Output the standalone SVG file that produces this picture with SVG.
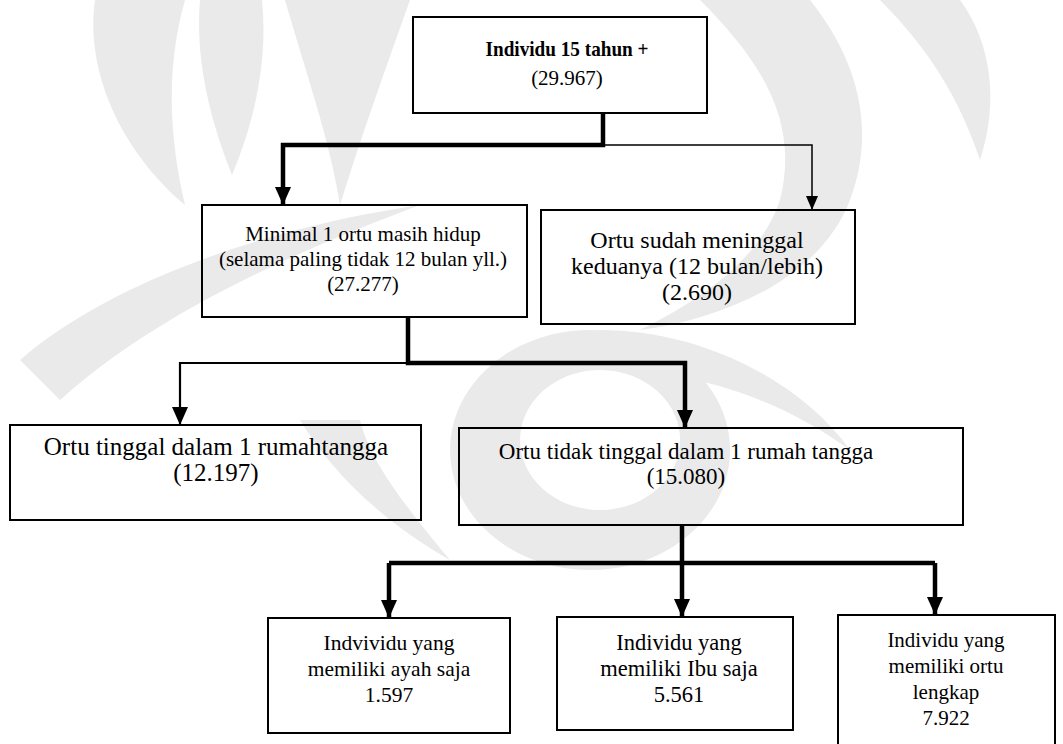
<svg xmlns="http://www.w3.org/2000/svg" width="1063" height="744" viewBox="0 0 1063 744">
<style>
.box{fill:none;stroke:#000;stroke-width:2}
.t{font-family:"Liberation Serif","Times New Roman",serif;fill:#000;text-anchor:middle}
.b{font-weight:bold;font-size:22px}
.s21{font-size:21px}
.s215{font-size:21.5px}
.s225{font-size:22.5px}
.s23{font-size:23px}
.s24{font-size:24px}
.s25{font-size:25px}
.thick{fill:none;stroke:#000;stroke-width:4.5}
.thin{fill:none;stroke:#000;stroke-width:2.2}
.hair{fill:none;stroke:#000;stroke-width:1.5}
.wm{fill:#eaeaea}
</style>
<defs>
<marker id="ahB" markerUnits="userSpaceOnUse" markerWidth="18" markerHeight="16" refX="18" refY="8" orient="auto" viewBox="0 0 18 16"><path d="M0,0 L18,8 L0,16 Z" fill="#000"/></marker>
<marker id="ahS" markerUnits="userSpaceOnUse" markerWidth="14" markerHeight="12" refX="14" refY="6" orient="auto" viewBox="0 0 14 12"><path d="M0,0 L14,6 L0,12 Z" fill="#000"/></marker>
</defs>
<rect width="1063" height="744" fill="#fff"/>
<g id="watermark">
<path class="wm" d="M95,0 C85,70 120,150 185,205 C170,140 165,70 185,0 Z"/>
<path class="wm" d="M200,0 C195,60 210,120 232,175 C255,120 268,60 262,0 Z"/>
<path class="wm" d="M285,0 C305,70 330,140 340,205 C360,140 385,70 410,0 Z"/>
<path class="wm" d="M700,0 C760,60 800,120 780,200 C760,260 700,300 640,330 C720,320 820,280 850,200 C880,120 850,50 810,0 Z"/>
<path class="wm" d="M880,0 C930,50 960,100 980,160 C1000,100 990,40 960,0 Z"/>
<path class="wm" d="M20,360 C100,290 250,230 420,205 C300,250 160,310 60,400 Z"/>
<path class="wm" d="M600,330 C700,330 800,380 850,450 C780,400 700,370 600,370 Z"/>
<path class="wm" fill-rule="evenodd" d="M590,330 a140,120 0 1,0 0.1,0 Z M600,370 a80,70 0 1,0 0.1,0 Z"/>
<path class="wm" d="M300,420 C330,470 380,520 450,560 C400,500 370,460 360,420 Z"/>
</g>
<g id="connectors">
<path class="thick" d="M603,113 V145 H283 V205" marker-end="url(#ahB)"/>
<path class="hair" d="M603,145 H812 V210" marker-end="url(#ahS)"/>
<path class="thick" d="M408,317 V363 H685 V428" marker-end="url(#ahB)"/>
<path class="thin" d="M408,363 H180 V425" marker-end="url(#ahB)"/>
<path class="thick" d="M682,525 V563"/>
<path class="thick" d="M389,563 H935"/>
<path class="thick" d="M389,563 V618" marker-end="url(#ahB)"/>
<path class="thick" d="M682,563 V617" marker-end="url(#ahB)"/>
<path class="thick" d="M935,563 V615" marker-end="url(#ahB)"/>
</g>
<g id="n-top">
<rect class="box" x="413" y="17" width="294" height="96"/>
<text class="t b" x="567" y="56" textLength="163" lengthAdjust="spacingAndGlyphs">Individu 15 tahun +</text>
<text class="t s21" x="567" y="85">(29.967)</text>
</g>
<g id="n-minimal">
<rect class="box" x="202" y="205" width="325" height="112"/>
<text class="t s21" x="363" y="241">Minimal 1 ortu masih hidup</text>
<text class="t s21" x="363" y="266">(selama paling tidak 12 bulan yll.)</text>
<text class="t s21" x="363" y="291">(27.277)</text>
</g>
<g id="n-sudah">
<rect class="box" x="541" y="210" width="314" height="114"/>
<text class="t s24" x="697" y="248">Ortu sudah meninggal</text>
<text class="t s24" x="697" y="274">keduanya (12 bulan/lebih)</text>
<text class="t s24" x="697" y="300">(2.690)</text>
</g>
<g id="n-tinggal">
<rect class="box" x="10" y="425" width="411" height="95"/>
<text class="t s25" x="216" y="455">Ortu tinggal dalam 1 rumahtangga</text>
<text class="t s25" x="216" y="481">(12.197)</text>
</g>
<g id="n-tidak">
<rect class="box" x="459" y="428" width="504" height="97"/>
<text class="t s23" x="686" y="459">Ortu tidak tinggal dalam 1 rumah tangga</text>
<text class="t s23" x="686" y="484">(15.080)</text>
</g>
<g id="n-ayah">
<rect class="box" x="268" y="618" width="242" height="115"/>
<text class="t s215" x="389" y="650">Indvividu yang</text>
<text class="t s215" x="389" y="676">memiliki ayah saja</text>
<text class="t s215" x="389" y="702">1.597</text>
</g>
<g id="n-ibu">
<rect class="box" x="557" y="617" width="236" height="113"/>
<text class="t s225" x="679" y="650">Individu yang</text>
<text class="t s225" x="679" y="676">memiliki Ibu saja</text>
<text class="t s225" x="679" y="702">5.561</text>
</g>
<g id="n-lengkap">
<path class="box" d="M838,744 V615 H1055 V744"/>
<text class="t s21" x="946" y="647">Individu yang</text>
<text class="t s21" x="946" y="673">memiliki ortu</text>
<text class="t s21" x="946" y="699">lengkap</text>
<text class="t s21" x="946" y="725">7.922</text>
</g>
</svg>
